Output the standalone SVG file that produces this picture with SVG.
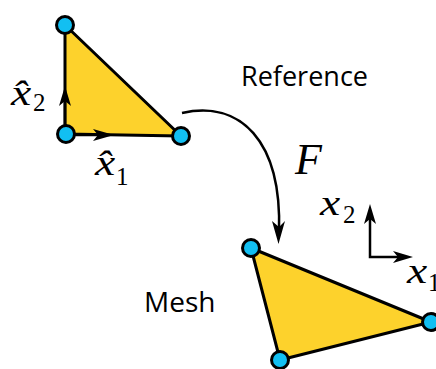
<svg xmlns="http://www.w3.org/2000/svg" width="436" height="369" viewBox="0 0 436 369">
<style>
.tri{fill:#FDD22C;stroke:#000;stroke-width:3;stroke-linejoin:round}
.v{fill:#12BFF2;stroke:#000;stroke-width:3}
.ln{fill:none;stroke:#000;stroke-width:2.5}
.ah{fill:#000;stroke:none}
.lbl{font-family:"Open Sans","Noto Sans",sans-serif;font-size:28px;fill:#000}
.m{font-family:"Liberation Serif","DejaVu Serif",serif;font-style:italic;font-size:35px;fill:#000}
.sub{font-family:"Liberation Serif","DejaVu Serif",serif;font-size:25px;fill:#000}
.big{font-size:44px}
</style>
<rect width="436" height="369" fill="#fff"/>
<g id="reference">
  <polygon class="tri" points="65,25 65,134 181,136"/>
  <line class="ln" x1="65" y1="134" x2="65" y2="96"/>
  <polygon class="ah" points="65,86 71,106 65,101 59,106"/>
  <line class="ln" x1="65" y1="135" x2="104" y2="135"/>
  <polygon class="ah" points="114,135 93,129 98,135 93,141"/>
  <circle class="v" cx="65" cy="25" r="8.5"/>
  <circle class="v" cx="66" cy="134" r="8.5"/>
  <circle class="v" cx="181" cy="136" r="8.5"/>
  <text class="m" transform="translate(11,105) scale(1.3,1)">x̂</text>
  <text class="sub" x="33" y="111">2</text>
  <text class="m" transform="translate(95,175) scale(1.3,1)">x̂</text>
  <text class="sub" x="116" y="185">1</text>
  <text class="lbl" x="241" y="86" textLength="127" lengthAdjust="spacingAndGlyphs">Reference</text>
</g>
<g id="mesh">
  <polygon class="tri" points="251,248 280,360 431,322"/>
  <circle class="v" cx="251" cy="248" r="8.5"/>
  <circle class="v" cx="280" cy="360" r="8.5"/>
  <circle class="v" cx="431" cy="322" r="8.5"/>
  <text class="lbl" x="144" y="312">Mesh</text>
</g>
<g id="axes">
  <polyline class="ln" points="370,214 370,257 402,257"/>
  <polygon class="ah" points="370,204 376,224 370,219 364,224"/>
  <polygon class="ah" points="413,257 393,251 398,257 393,263"/>
  <text class="m" transform="translate(320,215) scale(1.3,1)">x</text>
  <text class="sub" x="343" y="223">2</text>
  <text class="m" transform="translate(407,283) scale(1.3,1)">x</text>
  <text class="sub" x="428" y="291">1</text>
</g>
<g id="connectors">
  <path class="ln" d="M182,113 C240,100 282,140 279,232"/>
  <polygon class="ah" points="278.5,244 285,221 279,227 272,221"/>
  <text class="m big" x="295" y="174">F</text>
</g>
</svg>
